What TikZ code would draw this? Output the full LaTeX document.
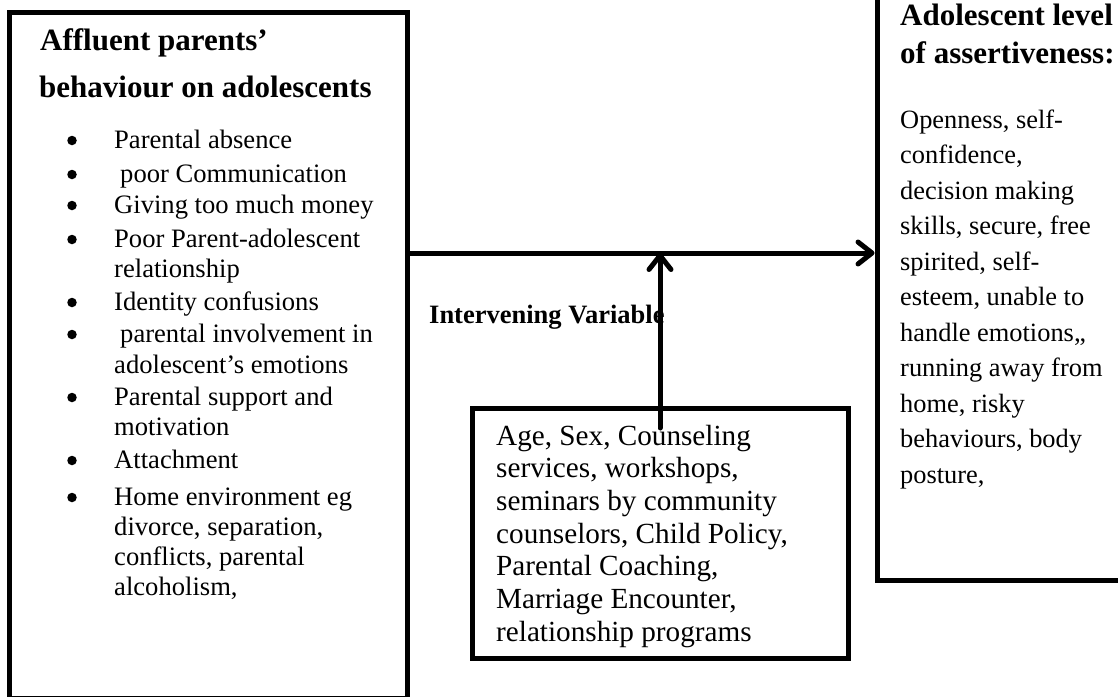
\documentclass[tikz,border=0pt]{standalone}
\usepackage{fontspec}
\setmainfont{Liberation Serif}
\usetikzlibrary{arrows.meta}
\begin{document}
\begin{tikzpicture}[x=1pt,y=-1pt,
  box/.style={draw, line width=5pt, inner sep=0pt},
  ttl/.style={anchor=base west, inner sep=0pt, font=\bfseries\fontsize{31}{38}\selectfont},
  itxt/.style={anchor=base west, inner sep=0pt, font=\fontsize{26.6}{32}\selectfont},
  bul/.style={circle, fill, inner sep=0pt, minimum size=9.5pt},
  rtxt/.style={anchor=base west, inner sep=0pt, font=\fontsize{26.4}{35}\selectfont},
  mtxt/.style={anchor=base west, inner sep=0pt, font=\fontsize{29.2}{33}\selectfont},
  lbl/.style={anchor=base west, inner sep=0pt, font=\bfseries\fontsize{26.5}{32}\selectfont},
  arr/.style={line width=5pt, line cap=round, -{Straight Barb[length=14pt,width=22pt,line join=round,line cap=round]}}]
\useasboundingbox (0,0) rectangle (1118,696);
\fill[white] (0,0) rectangle (1118,696);
% boxes
\node[box, minimum width=397.5pt, minimum height=685.5pt] (L) at (208.25,355.25) {};
\node[box, minimum width=260pt, minimum height=590pt] (R) at (1007,285) {};
\node[box, minimum width=376pt, minimum height=250pt] (M) at (660,533) {};
% left title
\node[ttl] (t1) at (40,50) {Affluent parents’};
\node[ttl] (t2) at (39,97) {behaviour on adolescents};
% left list
\foreach \n/\x/\y/\t in {a/114/148/{Parental absence}, b/120/182/{poor Communication},
  c/114/213/{Giving too much money}, d/114/247/{Poor Parent-adolescent},
  e/114/277/{relationship}, f/114/310/{Identity confusions},
  g/120/342/{parental involvement in}, h/114/373/{adolescent’s emotions},
  i/114/405/{Parental support and}, j/114/435/{motivation}, k/114/468/{Attachment},
  l/114/505/{Home environment eg}, m/114/535/{divorce, separation,},
  n/114/565/{conflicts, parental}, o/114/595/{alcoholism,}}
  \node[itxt] (li\n) at (\x,\y) {\t};
\foreach \n/\y in {a/148,b/182,c/213,d/247,f/310,g/342,i/405,k/468,l/505}
  \node[bul] (bu\n) at (72,\y-7.5) {};
% right heading and text
\node[ttl] (r1) at (900,25) {Adolescent level};
\node[ttl] (r2) at (900,63) {of assertiveness:};
\foreach \n/\y/\t in {a/128/{Openness, self-}, b/163.5/{confidence,},
  c/199/{decision making}, d/234.5/{skills, secure, free}, e/270/{spirited, self-},
  f/305.5/{esteem, unable to}, g/341/{handle emotions,,}, h/376.5/{running away from},
  i/412/{home, risky}, j/447.5/{behaviours, body}, k/483/{posture,}}
  \node[rtxt] (rt\n) at (900,\y) {\t};
% middle text
\foreach \n/\y/\t in {a/445/{Age, Sex, Counseling}, b/477.5/{services, workshops,},
  c/510/{seminars by community}, d/543/{counselors, Child Policy,},
  e/575.5/{Parental Coaching,}, f/608/{Marriage Encounter,},
  g/641/{relationship programs}}
  \node[mtxt] (mt\n) at (496,\y) {\t};
\node[lbl] (iv) at (429,323) {Intervening Variable};
% connectors
\coordinate (hy) at (0,253);
\coordinate (vs) at (660,428);
\draw[arr] (L.east |- hy) -- (R.west |- hy);
\draw[arr] (vs) -- (vs |- hy);
\end{tikzpicture}
\end{document}
